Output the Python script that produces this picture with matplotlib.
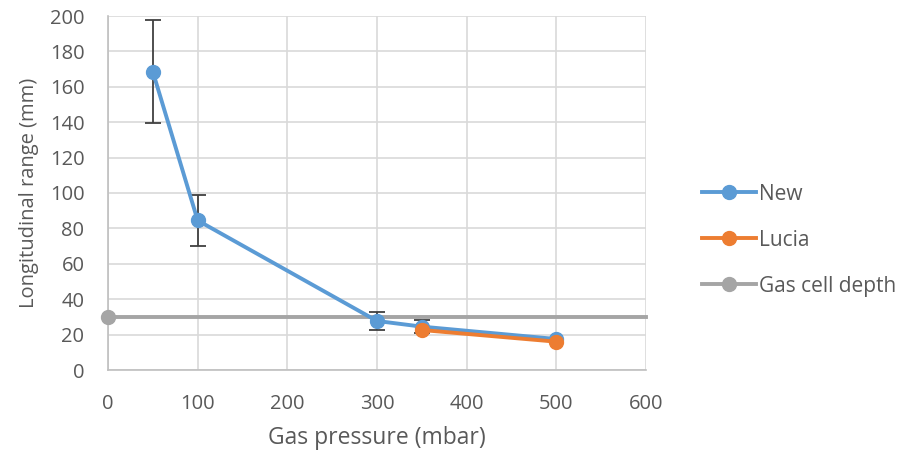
import matplotlib
matplotlib.use("Agg")
import matplotlib.pyplot as plt

plt.rcParams['font.family'] = ['Open Sans', 'DejaVu Sans']

# data
new_x = [50, 100, 300, 350, 500]
new_y = [168.5, 84.5, 27.7, 24.5, 17.5]
new_err = [29, 14.5, 5, 3.5, 0]
lucia_x = [350, 500]
lucia_y = [22.6, 16.0]
gas_x = [0, 600]
gas_y = [30, 30]

BLUE = '#5B9BD5'
ORANGE = '#ED7D31'
GRAY = '#A5A5A5'
TXT = '#595959'

fig = plt.figure(figsize=(9.02, 4.55), dpi=100)
ax = fig.add_axes([108 / 902, 1 - 370 / 455, 538 / 902, 354 / 455])

ax.errorbar(new_x, new_y, yerr=new_err, fmt='none', ecolor='#404040',
            elinewidth=1.3, capsize=6, capthick=1.3, zorder=3)
ax.plot(gas_x, gas_y, color=GRAY, linewidth=2.8, marker='o', markersize=10,
        markevery=[0], label='Gas cell depth', clip_on=False,
        solid_capstyle='projecting', zorder=4)
ax.plot(new_x, new_y, color=BLUE, linewidth=2.8, marker='o', markersize=10,
        label='New', zorder=5)
ax.plot(lucia_x, lucia_y, color=ORANGE, linewidth=2.8, marker='o', markersize=10,
        label='Lucia', zorder=6)

ax.set_xlim(0, 600)
ax.set_ylim(0, 200)
ax.set_xticks(range(0, 601, 100))
ax.set_yticks(range(0, 201, 20))
ax.grid(True, color='#D9D9D9', linewidth=1.2)
ax.set_axisbelow(True)
for s in ['top', 'right']:
    ax.spines[s].set_visible(False)
for s in ['left', 'bottom']:
    ax.spines[s].set_color('#BFBFBF')
    ax.spines[s].set_linewidth(1.2)
ax.tick_params(length=0, labelsize=14.5, colors=TXT)
ax.tick_params(axis='x', pad=17)
ax.tick_params(axis='y', pad=17)

ax.set_xlabel('Gas pressure (mbar)', fontsize=16.5, color=TXT, labelpad=9)
ax.set_ylabel('Longitudinal range (mm)', fontsize=14.5, color=TXT, labelpad=8)

h, l = ax.get_legend_handles_labels()
order = [1, 2, 0]
leg = fig.legend([h[i] for i in order], [l[i] for i in order],
                 loc='center left', bbox_to_anchor=(0.757, 0.472), frameon=False,
                 fontsize=15, labelcolor=TXT, handlelength=2.6,
                 handletextpad=0.15, labelspacing=1.2)

plt.savefig('out.png', dpi=100)
plt.close()
